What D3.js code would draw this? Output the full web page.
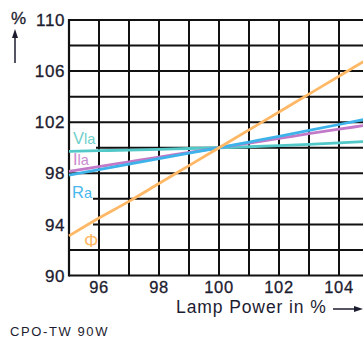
<!DOCTYPE html>
<html>
<head>
<meta charset="utf-8">
<script src="https://cdn.jsdelivr.net/npm/d3@7"></script>
<style>
  body { margin: 0; background: #fff; }
  svg { display: block; font-family: "Liberation Sans", Arial, sans-serif; }
</style>
</head>
<body>
<div id="chart"></div>
<script>
// lamp power in %
const power = [95, 96, 97, 98, 99, 100, 101, 102, 103, 104, 105];
// relative values in %
const flux    = [93.1, 94.5, 95.8, 97.2, 98.6, 100, 101.4, 102.8, 104.2, 105.6, 107.0];
const voltage = [99.72, 99.77, 99.82, 99.88, 99.94, 100, 100.08, 100.17, 100.27, 100.38, 100.5];
const current = [98.15, 98.53, 98.9, 99.27, 99.63, 100, 100.37, 100.73, 101.1, 101.45, 101.8];
const resist  = [97.85, 98.28, 98.71, 99.14, 99.57, 100, 100.45, 100.9, 101.36, 101.82, 102.28];

const xGrid = [96, 97, 98, 99, 100, 101, 102, 103, 104, 105];
const yGrid = [92, 94, 96, 98, 100, 102, 104, 106, 108, 110];
const xLabels = [96, 98, 100, 102, 104];
const yLabels = [90, 94, 98, 102, 106, 110];

const W = 363, H = 341;
const plotLeft = 69, plotTop = 20, plotBottom = 275.5;
const x = d3.scaleLinear().domain([95, 106]).range([plotLeft, plotLeft + 330]);
const y = d3.scaleLinear().domain([90, 110]).range([plotBottom, plotTop]);
const ink = '#1c1c30';

const svg = d3.select('#chart').append('svg')
  .attr('width', W).attr('height', H);

// grid
svg.append('g').selectAll('line')
  .data(xGrid).enter().append('line')
  .attr('x1', d => x(d)).attr('x2', d => x(d))
  .attr('y1', plotTop).attr('y2', plotBottom)
  .attr('stroke', '#111').attr('stroke-width', 2);

svg.append('g').selectAll('line')
  .data(yGrid).enter().append('line')
  .attr('x1', plotLeft).attr('x2', W)
  .attr('y1', d => y(d)).attr('y2', d => y(d))
  .attr('stroke', '#111').attr('stroke-width', 2);

// white boxes behind the curve labels
svg.append('rect').attr('x', plotLeft + 1).attr('y', 128).attr('width', 26).attr('height', 40).attr('fill', '#fff');
svg.append('rect').attr('x', plotLeft + 1).attr('y', 179).attr('width', 23).attr('height', 50).attr('fill', '#fff');

// frame
svg.append('line').attr('x1', plotLeft).attr('x2', plotLeft).attr('y1', plotTop - 1).attr('y2', plotBottom + 1)
  .attr('stroke', '#111').attr('stroke-width', 2.2);
svg.append('line').attr('x1', plotLeft).attr('x2', W).attr('y1', plotBottom).attr('y2', plotBottom)
  .attr('stroke', '#111').attr('stroke-width', 2.2);

// curves
const series = [
  { values: voltage, color: '#52c8c8' },
  { values: current, color: '#c27ac8' },
  { values: resist, color: '#3db3ea' },
  { values: flux, color: '#ffb866' }
];
const line = d3.line()
  .x((d, i) => x(power[i]))
  .y(d => y(d))
  .curve(d3.curveMonotoneX);

svg.append('g').selectAll('path')
  .data(series).enter().append('path')
  .attr('d', d => line(d.values))
  .attr('fill', 'none')
  .attr('stroke', d => d.color)
  .attr('stroke-width', 2.8);

// curve labels
function label(px, py, main, sub, color) {
  const t = svg.append('text').attr('x', px).attr('y', py)
    .attr('fill', color).attr('font-size', 16.5);
  t.append('tspan').text(main);
  if (sub) t.append('tspan').attr('font-size', 14.5).text(sub);
}
label(73, 144, 'V', 'la', '#6fd0cc');
label(73, 165, 'I', 'la', '#c98ad0');
label(72, 198, 'R', 'a', '#4ab8ec');
svg.append('text').attr('x', 84).attr('y', 247).attr('fill', '#ffb866')
  .attr('font-size', 18).text('Φ');

// tick labels
svg.append('g').selectAll('text')
  .data(yLabels).enter().append('text')
  .attr('x', 65).attr('y', d => y(d)).attr('dy', '0.36em')
  .attr('text-anchor', 'end').attr('font-size', 17).attr('letter-spacing', 0.6)
  .attr('fill', ink).attr('stroke', ink).attr('stroke-width', 0.3)
  .text(d => d);

svg.append('g').selectAll('text')
  .data(xLabels).enter().append('text')
  .attr('x', d => x(d)).attr('y', 293)
  .attr('text-anchor', 'middle').attr('font-size', 16.5).attr('letter-spacing', 0.6)
  .attr('fill', ink).attr('stroke', ink).attr('stroke-width', 0.3)
  .text(d => d);

// y unit with arrow
svg.append('text').attr('x', 11).attr('y', 24).attr('font-size', 17)
  .attr('fill', ink).attr('stroke', ink).attr('stroke-width', 0.3).text('%');
svg.append('line').attr('x1', 15).attr('x2', 15).attr('y1', 63).attr('y2', 36)
  .attr('stroke', ink).attr('stroke-width', 1.5);
svg.append('path').attr('d', 'M15,29 L12,38 L18,38 Z').attr('fill', ink);

// x title with arrow
svg.append('text').attr('x', 176).attr('y', 313).attr('font-size', 17.5)
  .attr('letter-spacing', 0.9).attr('fill', ink).text('Lamp Power in %');
svg.append('line').attr('x1', 333).attr('x2', 355).attr('y1', 309).attr('y2', 309)
  .attr('stroke', ink).attr('stroke-width', 1.5);
svg.append('path').attr('d', 'M363,309 L354,306 L354,312 Z').attr('fill', ink);

// footer
svg.append('text').attr('x', 10).attr('y', 336).attr('font-size', 13)
  .attr('letter-spacing', 1.6).attr('fill', ink).attr('font-weight', 300)
  .text('CPO-TW 90W');
</script>
</body>
</html>
